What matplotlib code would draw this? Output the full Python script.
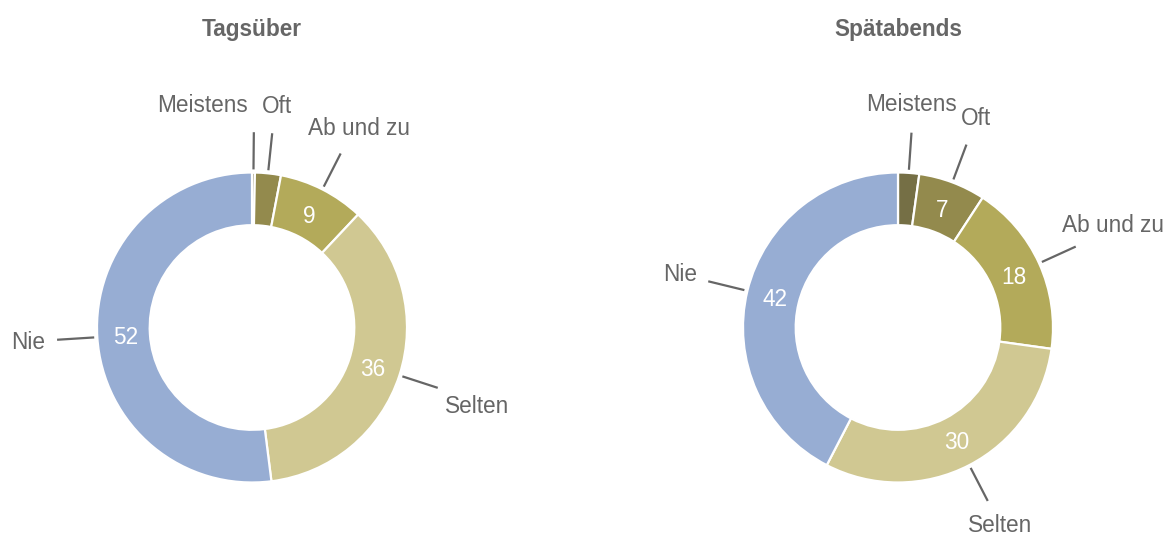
import numpy as np
import matplotlib.pyplot as plt

plt.rcParams['font.family'] = ['Liberation Sans', 'DejaVu Sans']

# data
categories = ['Meistens', 'Oft', 'Ab und zu', 'Selten', 'Nie']
tagsueber = [0.3, 2.7, 9.0, 36.0, 52.0]
spaetabends = [2.2, 7.0, 18.0, 30.4, 42.4]
titles = ['Tagsüber', 'Spätabends']

colors = ['#756f45', '#938a4d', '#b3aa5a', '#d0c892', '#97add3']
grey = '#666666'

# layout in pixels (figure is 1167 x 536)
W, H = 1167, 536
R = 155
centers = [(252, H - 327.5), (898, H - 327.5)]
# label offsets from the end of each leader line (dx, dy to baseline, pixels)
offsets = [
    [(-51, 20), (5, 20), (18, 18), (39, -25), (-29, -9)],
    [(0, 22), (9, 20), (37, 15), (12, -31), (-28, 0)],
]

fig = plt.figure(figsize=(W / 100, H / 100), dpi=100)
ax = fig.add_axes([0, 0, 1, 1])

for k, vals in enumerate([tagsueber, spaetabends]):
    cx, cy = centers[k]
    ax.pie(vals, colors=colors, startangle=90, counterclock=False,
           radius=R, center=(cx, cy),
           wedgeprops=dict(width=0.34 * R, edgecolor='white', linewidth=1.6))
    vals = np.array(vals)
    cum = np.cumsum(vals) - vals / 2
    mids = np.radians(cum / vals.sum() * 360)
    for i, t in enumerate(mids):
        sx, sy = np.sin(t), np.cos(t)
        # leader line
        x0, y0 = cx + 1.02 * R * sx, cy + 1.02 * R * sy
        x1, y1 = cx + 1.26 * R * sx, cy + 1.26 * R * sy
        ax.plot([x0, x1], [y0, y1], color=grey, lw=1.6, solid_capstyle='butt')
        dx, dy = offsets[k][i]
        ax.text(x1 + dx, y1 + dy, categories[i], ha='center', va='baseline',
                fontsize=16.3, color=grey)
        # value inside the ring
        if vals[i] >= 5:
            ax.text(cx + 0.82 * R * sx, cy + 0.82 * R * sy, f"{vals[i]:.0f}",
                    ha='center', va='center_baseline', fontsize=16.3,
                    color='white')
    ax.text(cx, H - 36, titles[k], ha='center', va='baseline',
            fontsize=16.3, fontweight='bold', color=grey)

ax.set_xlim(0, W)
ax.set_ylim(0, H)
ax.set_aspect('equal')
ax.set_axis_off()

fig.savefig('out.png', dpi=100)
